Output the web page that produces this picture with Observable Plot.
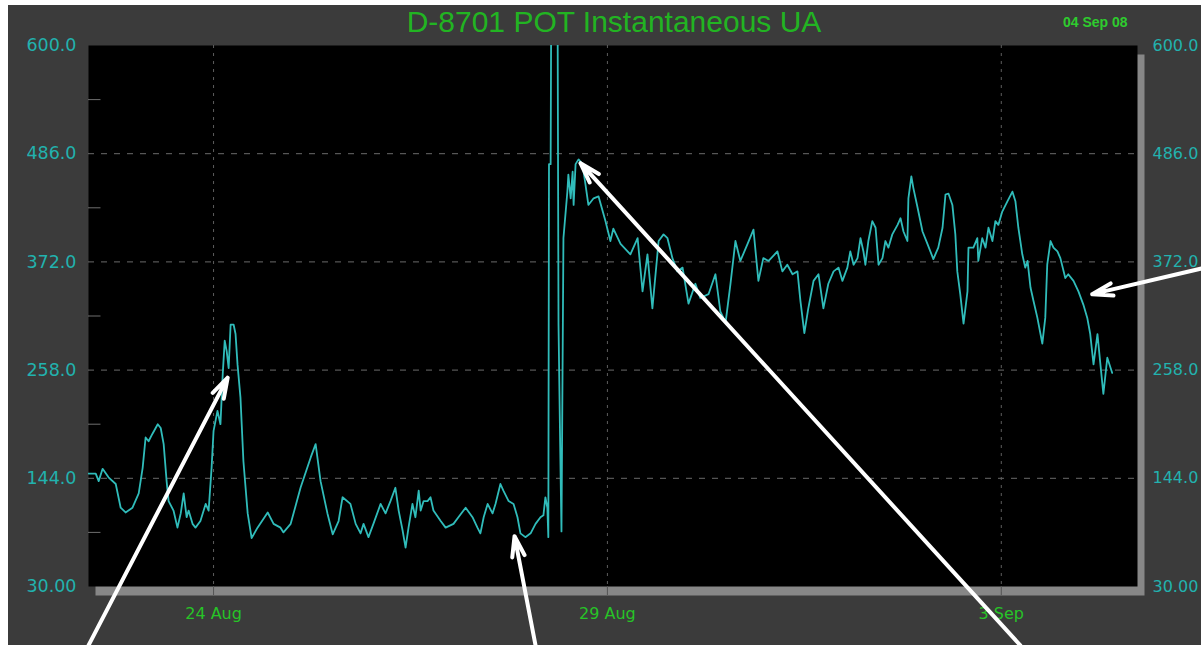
<!DOCTYPE html>
<html>
<head>
<meta charset="utf-8">
<script src="https://cdn.jsdelivr.net/npm/d3@7"></script>
<script src="https://cdn.jsdelivr.net/npm/@observablehq/plot@0.6"></script>
<style>
  html, body { margin: 0; padding: 0; background: #ffffff; overflow: hidden; }
  #wrap { position: relative; width: 1201px; height: 645px; }
  #chart { position: absolute; left: 8px; top: 5px; }
  #title { position: absolute; left: 0; top: 5px; width: 1228px; text-align: center;
           font: 30px "Liberation Sans", Arial, sans-serif; color: #22b422; z-index: 2; }
  #stamp { position: absolute; left: 1063px; top: 14px; font: bold 14px "Liberation Sans", Arial, sans-serif;
           color: #2ecc2e; z-index: 2; }
</style>
</head>
<body>
<div id="wrap">
  <div id="chart"></div>
  <div id="title">D-8701 POT Instantaneous UA</div>
  <div id="stamp">04 Sep 08</div>
</div>
<script>
// Series start: hours are counted from 22 Aug 2008 00:00 UTC
const seriesStart = "2008-08-22T00:00:00Z";

// Window of the chart, in hours from seriesStart
const windowHours = [9.9, 329.5];

// Sample times (hours) and POT instantaneous readings (UA)
const hours = [
  9.9, 12.1, 13.0, 14.2, 16.0, 18.2, 19.7, 21.2, 23.3, 25.2, 26.4, 27.3, 28.2, 29.4, 31.0, 31.9,
  32.8, 33.7, 34.3, 35.8, 37.0, 38.0, 38.9, 39.8, 40.4, 41.6, 42.5, 44.0, 45.6, 46.5, 47.4, 48.0,
  49.2, 50.1, 50.8, 51.4, 52.0, 52.6, 53.2, 54.1, 54.7, 55.3, 56.2, 57.1, 58.4, 59.6, 61.4, 64.5,
  66.3, 68.4, 69.3, 71.5, 74.5, 77.6, 79.1, 80.6, 82.7, 84.3, 86.1,
  87.3, 89.7, 91.3, 92.8, 93.7, 95.2, 96.7, 98.9, 100.4, 101.9, 103.4, 104.4, 105.6, 106.5, 107.4,
  108.6, 109.5, 110.5, 111.1, 112.0, 113.2, 114.1, 115.0, 117.2, 118.7, 121.1, 122.6, 124.8, 126.9,
  128.4, 129.3, 130.3, 131.5, 133.0, 133.9, 135.4, 136.3, 137.9, 139.4, 140.6, 141.5, 143.0, 144.6,
  146.1, 147.6, 148.5, 149.1, 149.7,
  150.0, 150.2, 150.7, 150.9, 152.8, 153.1, 153.6, 154.0, 154.6,
  155.8, 156.1, 156.8, 157.4, 157.7, 158.3, 159.2, 160.4, 161.3, 162.2, 163.8, 165.3,
  167.4, 168.9, 169.8, 172.0, 175.0, 177.2, 178.7, 180.2, 181.7, 183.6, 185.1, 186.3, 187.8, 189.3,
  190.9, 192.7, 194.8, 196.3, 198.8, 200.9, 202.4, 204.0, 205.5, 207.0, 208.5, 210.7, 212.5, 214.0,
  215.5, 217.1, 219.8, 221.3, 222.8, 224.4, 225.9, 226.8, 228.0, 229.2, 230.8, 232.3,
  233.8, 235.3, 236.9, 238.4, 239.6, 241.1, 242.0, 243.0, 244.2, 245.1, 246.0, 246.6, 247.5, 248.7,
  249.7, 250.6, 251.8, 252.7, 253.6, 254.8, 256.4, 257.3, 258.2, 259.4, 259.7, 260.6, 261.2, 262.5,
  264.0, 265.5, 267.3, 268.8, 270.1, 271.0, 271.9, 273.1, 274.0, 274.6, 275.5, 276.5, 277.7, 278.0,
  279.5, 280.7, 281.0, 282.2, 283.2, 284.1, 285.3, 286.2, 287.1, 288.3, 289.9, 291.4, 292.3, 293.2,
  294.4, 295.3, 296.0, 296.9, 297.8, 299.0, 300.5, 301.4, 302.0, 303.0, 303.9, 305.1, 306.0, 307.5,
  308.4, 310.0, 311.5, 313.0, 314.2, 315.1, 316.1, 317.3, 318.2, 319.1, 320.3, 321.8
];
const ua = [
  149, 149, 141, 154, 145, 138, 113, 108, 113, 128, 155, 187, 183, 191, 201, 197,
  180, 141, 120, 110, 92, 107, 128, 103, 110, 96, 92, 99, 117, 110, 155, 194,
  215, 201, 254, 289, 278, 260, 306, 306, 296, 264, 229, 162, 107, 81, 92, 108,
  96, 92, 87, 96, 134, 166, 180, 141, 107, 85, 99,
  124, 117, 96, 86, 96, 82, 96, 117, 107, 120, 134, 110, 89, 71, 92,
  117, 103, 131, 110, 120, 120, 124, 110, 99, 92, 96, 103, 113, 103,
  92, 86, 103, 117, 107, 117, 138, 131, 120, 117, 103, 86, 82, 86,
  96, 103, 105, 124, 113,
  82, 475, 475, 660, 660, 306, 180, 88, 397,
  446, 464, 439, 467, 432, 475, 480, 475, 454, 432, 439, 441,
  415, 394, 407, 391, 380, 397, 341, 380, 323, 394, 401, 397, 376, 362,
  366, 328, 349, 334, 338, 359, 320, 308, 349, 394, 373, 391, 406, 352,
  376, 373, 383, 362, 369, 359, 362, 331, 297, 323, 352, 359,
  323, 349, 362, 366, 352, 366, 383, 369, 376, 397, 383, 369, 394, 415,
  408, 369, 376, 394, 387, 401, 411, 418, 404, 394, 439, 462, 450, 429,
  404, 391, 375, 387, 408, 443, 444, 432, 401, 362, 338, 307, 341, 387,
  387, 397, 373, 397, 387, 408, 394, 415, 411, 425, 436, 446, 436, 408,
  380, 366, 373, 345, 331, 313, 286, 313, 369, 394, 387, 383, 376, 355,
  359, 352, 341, 327, 313, 296, 264, 296, 264, 233, 271, 255
];

// Value axis
const yTicks = [30, 144, 258, 372, 486, 600];
const yTickLabels = ["30.00", "144.0", "258.0", "372.0", "486.0", "600.0"];
const yGrid = [144, 258, 372, 486];
const yMinor = [87, 201, 315, 429, 543];

// Date axis
const xTicks = ["2008-08-24", "2008-08-29", "2008-09-03"];

// Call-out arrows (hours, UA): tail -> head
const arrowTailH = [9.9, 146.1, 293.8, 349.0];
const arrowTailV = [-32, -32, -32, 365];
const arrowHeadH = [52.3, 139.7, 159.8, 315.7];
const arrowHeadV = [250, 83, 476, 338];

const t0 = Date.parse(seriesStart);
const at = h => new Date(t0 + h * 3600e3);

const series = hours.map((h, i) => ({date: at(h), value: ua[i]}));
const arrows = arrowTailH.map((h, i) => ({
  x1: at(h), y1: arrowTailV[i], x2: at(arrowHeadH[i]), y2: arrowHeadV[i]
}));
const tickDates = xTicks.map(s => new Date(s + "T00:00:00Z"));
const xDomain = windowHours.map(at);
const yLabel = new Map(yTicks.map((v, i) => [v, yTickLabels[i]]));

const teal = "#22b2ae";
const green = "#27c427";

const chart = Plot.plot({
  width: 1193,
  height: 640,
  marginLeft: 80,
  marginRight: 64,
  marginTop: 40,
  marginBottom: 59,
  style: {background: "#3b3b3b", fontFamily: "DejaVu Sans, sans-serif", fontSize: "15px"},
  x: {type: "utc", domain: xDomain},
  y: {domain: [30, 600]},
  marks: [
    // drop shadow and black panel
    Plot.frame({fill: "#878787", dx: 7, dy: 9}),
    Plot.frame({fill: "#000000"}),
    Plot.gridY(yGrid, {stroke: "#6a6a6a", strokeOpacity: 1, strokeDasharray: "6,7", strokeWidth: 1}),
    Plot.gridX(tickDates, {stroke: "#5e5e5e", strokeOpacity: 1, strokeDasharray: "3,5", strokeWidth: 1}),
    Plot.ruleY(yMinor, {x1: xDomain[0], x2: at(windowHours[0] + 3.8), stroke: "#6e6e6e"}),
    Plot.axisX(tickDates, {anchor: "bottom", tickSize: 9, stroke: "#555555", tickFormat: () => ""}),
    Plot.axisX(tickDates, {anchor: "bottom", tickSize: 0, tickPadding: 21, fill: green,
      fontSize: 16, tickFormat: d3.utcFormat("%-d %b")}),
    Plot.axisY(yTicks, {anchor: "left", tickSize: 0, tickPadding: 12, fill: teal,
      fontSize: 17.5, tickFormat: d => yLabel.get(d)}),
    Plot.axisY(yTicks, {anchor: "right", tickSize: 0, tickPadding: 15, fill: teal,
      fontSize: 16, tickFormat: d => yLabel.get(d)}),
    Plot.line(series, {x: "date", y: "value", stroke: "#30bcba", strokeWidth: 1.8, clip: true}),
    Plot.arrow(arrows, {x1: "x1", y1: "y1", x2: "x2", y2: "y2", stroke: "#ffffff",
      strokeWidth: 4, headLength: 8, headAngle: 34, insetEnd: 0})
  ]
});
document.getElementById("chart").append(chart);
</script>
</body>
</html>
